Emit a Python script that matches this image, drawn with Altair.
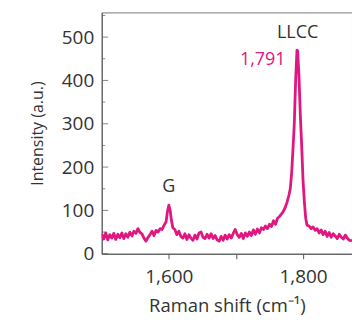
import altair as alt
import pandas as pd

shift = [1500,1503,1506,1509,1512,1515,1518,1521,1524,1527,1530,1533,1536,1539,1542,1545,1548,1551,1554,1557,
         1560,1563,1566,1569,1572,1575,1578,1581,1584,1587,1590,1593,1596,1598,1600,1602,1604,1606,1609,1612,
         1615,1618,1621,1624,1627,1630,1633,1636,1639,1642,1645,1648,1651,1654,1657,1660,1663,1666,1669,1672,
         1675,1678,1681,1684,1687,1690,1693,1696,1699,1702,1705,1708,1711,1714,1717,1720,1723,1726,1729,1732,
         1735,1738,1741,1744,1747,1750,1753,1756,1759,1762,1765,1768,1770,1773,1776,1779,1781,1783,1785,1787,
         1789,1791,1792,1794,1796,1798,1800,1802,1804,1806,1809,1812,1815,1818,1821,1824,1827,1830,1833,1836,
         1839,1842,1845,1848,1851,1854,1857,1860,1863,1866,1869,1873]
intensity = [46,34,48,32,44,36,47,33,45,37,48,35,46,38,50,41,52,47,58,49,
             46,36,29,38,44,52,42,54,50,58,56,66,74,98,112,100,76,60,56,44,
             52,40,36,46,33,44,36,31,43,34,48,50,38,35,45,36,46,35,42,32,
             29,40,31,43,34,44,36,47,56,44,38,47,35,48,40,50,42,55,45,57,
             48,60,56,64,58,68,63,76,68,82,86,92,96,105,118,135,150,185,240,300,
             400,470,468,410,320,250,170,120,82,66,64,58,62,54,58,48,55,44,52,40,
             49,38,46,41,35,45,38,34,43,36,31,30]

ann_text = ["G", "LLCC", "1,791"]
ann_x = [1600, 1792, 1740]
ann_y = [155, 510, 446]
ann_color = ["#333333", "#333333", "#e0177f"]

major_ticks = [0, 100, 200, 300, 400, 500]
minor_ticks = [50, 150, 250, 350, 450, 550]

FONT = "Open Sans"
MAG = "#e0177f"
XD = [1500, 1873]
YD = [0, 557]

df = pd.DataFrame({"x": shift, "y": intensity})

line = alt.Chart(df).mark_line(color=MAG, strokeWidth=2.8, clip=True, strokeJoin="round").encode(
    x=alt.X("x:Q", scale=alt.Scale(domain=XD, nice=False, zero=False),
            axis=alt.Axis(title="Raman shift (cm\u207b\u00b9)", values=[1600, 1700, 1800],
                          labelExpr="datum.value == 1700 ? '' : format(datum.value, ',')",
                          grid=False, tickSize=5, tickColor="#555", domainColor="#555",
                          labelFontSize=19, titleFontSize=18.5, labelPadding=9, titlePadding=10,
                          labelFont=FONT, titleFont=FONT, labelColor="#333", titleColor="#333",
                          titleFontWeight="normal")),
    y=alt.Y("y:Q", scale=alt.Scale(domain=YD, nice=False),
            axis=alt.Axis(title="Intensity (a.u.)", values=major_ticks, ticks=False, grid=False,
                          domainColor="#555", labelFontSize=19, titleFontSize=16, labelPadding=8,
                          titlePadding=16, labelFont=FONT, titleFont=FONT, labelColor="#333",
                          titleColor="#333", titleFontWeight="normal")),
)

tdf_major = pd.DataFrame({"x": [1500] * len(major_ticks), "y": major_ticks})
tdf_minor = pd.DataFrame({"x": [1500] * len(minor_ticks), "y": minor_ticks})
tick_major = alt.Chart(tdf_major).mark_tick(orient="horizontal", size=6, xOffset=3.5,
                                            color="#555", thickness=1).encode(x="x:Q", y="y:Q")
tick_minor = alt.Chart(tdf_minor).mark_tick(orient="horizontal", size=3, xOffset=2,
                                            color="#555", thickness=1).encode(x="x:Q", y="y:Q")

adf = pd.DataFrame({"t": ann_text, "x": ann_x, "y": ann_y, "c": ann_color})
text = alt.Chart(adf).mark_text(fontSize=18, font=FONT, baseline="middle", align="center").encode(
    x="x:Q", y="y:Q", text="t:N", color=alt.Color("c:N", scale=None))

chart = alt.layer(line, tick_major, tick_minor, text).properties(
    width=251, height=242,
    autosize=alt.AutoSizeParams(type="none"),
    padding={"left": 102, "top": 12, "right": 0, "bottom": 67},
).configure_view(stroke="#777", strokeWidth=1)

chart.save("out.html", embed_options={"renderer": "svg", "actions": False})
